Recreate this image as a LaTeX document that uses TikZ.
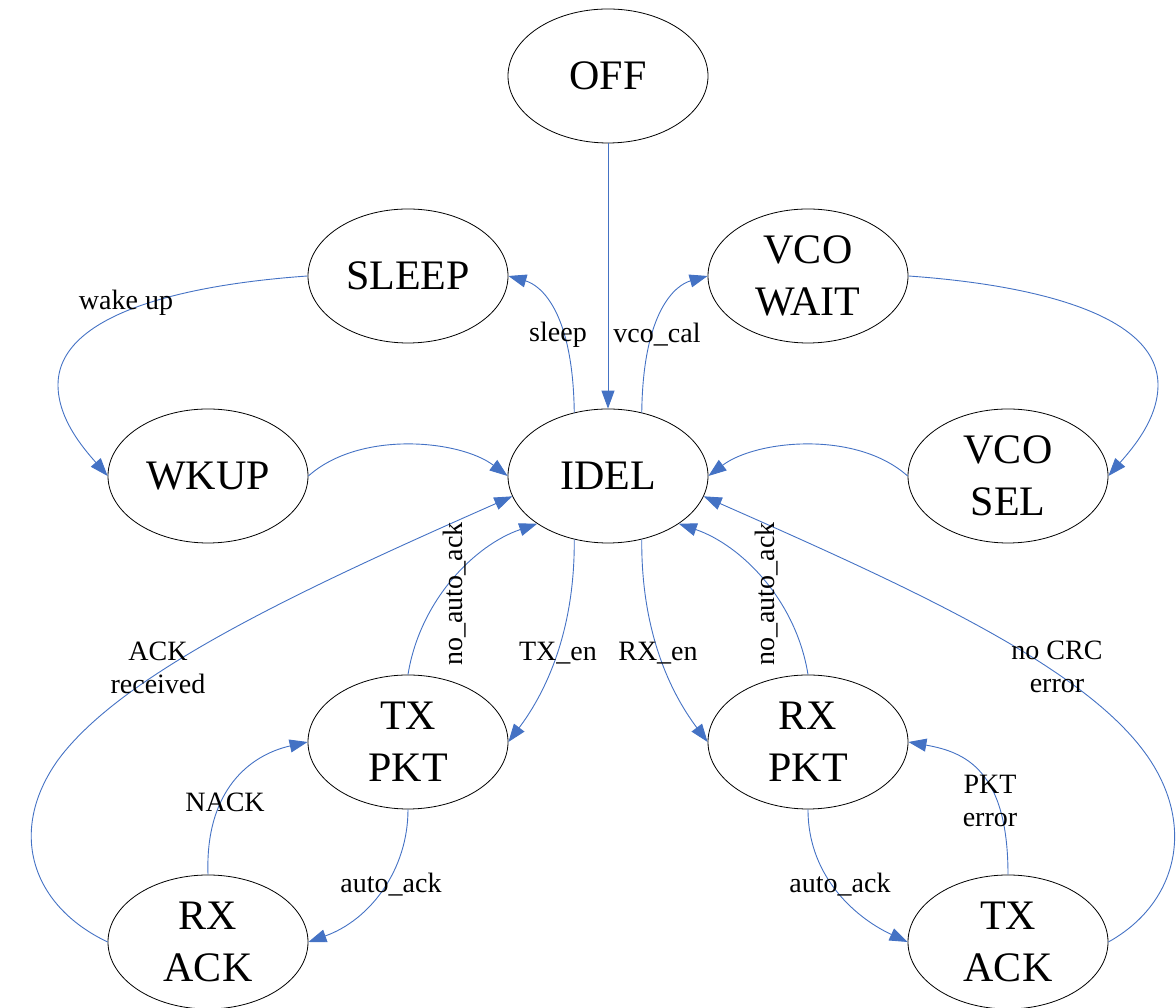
\documentclass[tikz,border=0pt]{standalone}
\usepackage{fontspec}
\setmainfont{Liberation Serif}
\usetikzlibrary{shapes.geometric,arrows.meta}
\definecolor{flowblue}{RGB}{68,114,196}
\begin{document}
\begin{tikzpicture}[x=1pt,y=1pt,
  state/.style={draw=black, line width=0.8pt, fill=white, ellipse,
    minimum width=200pt, minimum height=134pt, inner sep=0pt,
    font=\fontsize{42}{52}\selectfont, align=center},
  flow/.style={draw=flowblue, line width=0.9pt,
    -{Triangle[length=18pt,width=13pt]}},
  lbl/.style={font=\fontsize{28}{32.5}\selectfont, align=center, inner sep=0pt}]
\useasboundingbox (0,0) rectangle (1176,1008);

% states
\node[state] (off)     at (608,932) {OFF};
\node[state] (sleep)   at (408,732) {SLEEP};
\node[state] (vcowait) at (808,732) {VCO\\WAIT};
\node[state] (wkup)    at (208,532) {WKUP};
\node[state] (idel)    at (608,532) {IDEL};
\node[state] (vcosel)  at (1008,532) {VCO\\SEL};
\node[state] (txpkt)   at (408,266) {TX\\PKT};
\node[state] (rxpkt)   at (808,266) {RX\\PKT};
\node[state] (rxack)   at (208,66) {RX\\ACK};
\node[state] (txack)   at (1008,66) {TX\\ACK};

% transitions
\draw[flow] (off) -- (idel);
\draw[flow] (idel.118) .. controls (573,698) and (540,723) .. (sleep.east);
\draw[flow] (idel.62) .. controls (643,698) and (676,723) .. (vcowait.west);
\draw[flow] (sleep.west) .. controls (180,723) and (58,693) .. (58,623)
  .. controls (58,588) and (85,558) .. (wkup.west);
\draw[flow] (wkup.east) .. controls (360,578) and (460,568) .. (idel.west);
\draw[flow] (vcowait.east) .. controls (1036,723) and (1158,693) .. (1158,623)
  .. controls (1158,588) and (1131,558) .. (vcosel.east);
\draw[flow] (vcosel.west) .. controls (856,578) and (756,568) .. (idel.east);
\draw[flow] (idel.242) .. controls (575,368) and (540,308) .. (txpkt.east);
\draw[flow] (txpkt.north) .. controls (420,408) and (475,463) .. (idel.214);
\draw[flow] (idel.298) .. controls (641,368) and (676,308) .. (rxpkt.west);
\draw[flow] (rxpkt.north) .. controls (796,408) and (741,463) .. (idel.326);
\draw[flow] (rxack.west) .. controls (30,103) and (8,178) .. (58,248)
  .. controls (122,335) and (300,418) .. (idel.192);
\draw[flow] (txack.east) .. controls (1175,103) and (1196,178) .. (1150,248)
  .. controls (1090,339) and (916,418) .. (idel.348);
\draw[flow] (rxack.north) .. controls (205,218) and (250,253) .. (txpkt.west);
\draw[flow] (txpkt.south) .. controls (408,138) and (370,88) .. (rxack.east);
\draw[flow] (rxpkt.south) .. controls (808,128) and (860,88) .. (txack.west);
\draw[flow] (txack.north) .. controls (1008,238) and (965,256) .. (rxpkt.east);

% transition labels
\node[lbl] (lsleep) at (558,673) {sleep};
\node[lbl] (lvco)   at (657,673) {vco\_cal};
\node[lbl] (lwake)  at (126,705) {wake up};
\node[lbl] (ltx)    at (558,355) {TX\_en};
\node[lbl] (lrx)    at (658,355) {RX\_en};
\node[lbl, rotate=90] (lnoa1) at (455,414) {no\_auto\_ack};
\node[lbl, rotate=90] (lnoa2) at (767,414) {no\_auto\_ack};
\node[lbl] (lackr)  at (158,340) {ACK\\received};
\node[lbl] (lnack)  at (225,206) {NACK};
\node[lbl] (laa1)   at (391,123) {auto\_ack};
\node[lbl] (laa2)   at (840,123) {auto\_ack};
\node[lbl] (lpkt)   at (990,207) {PKT\\error};
\node[lbl] (lcrc)   at (1057,341) {no CRC\\error};
\end{tikzpicture}
\end{document}
